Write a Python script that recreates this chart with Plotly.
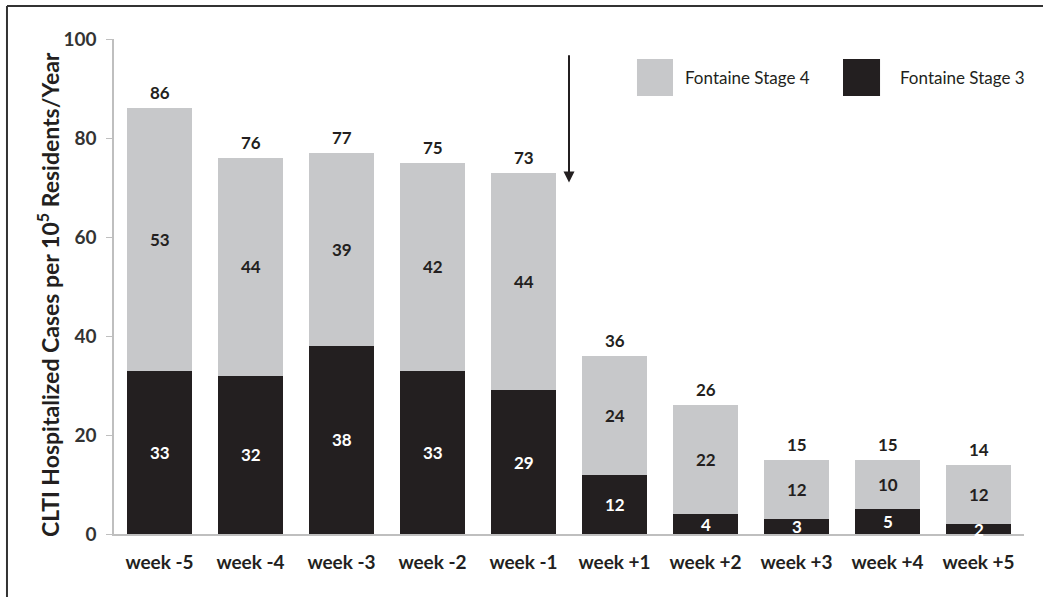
import plotly.graph_objects as go

weeks = ["week -5", "week -4", "week -3", "week -2", "week -1",
         "week +1", "week +2", "week +3", "week +4", "week +5"]
stage3 = [33, 32, 38, 33, 29, 12, 4, 3, 5, 2]
stage4 = [53, 44, 39, 42, 44, 24, 22, 12, 10, 12]
totals = [86, 76, 77, 75, 73, 36, 26, 15, 15, 14]
y_title = "CLTI Hospitalized Cases per 10<sup>5</sup> Residents/Year"

C4 = "#c7c8ca"
C3 = "#231f20"
TXT = "#231f20"
FONT = "Lato"

fig = go.Figure()
fig.add_trace(go.Bar(x=weeks, y=stage3, name="Fontaine Stage 3",
                     marker=dict(color=C3, line=dict(width=0))))
fig.add_trace(go.Bar(x=weeks, y=stage4, name="Fontaine Stage 4",
                     marker=dict(color=C4, line=dict(width=0))))

ann = []
for w, s3, s4, t in zip(weeks, stage3, stage4, totals):
    ann.append(dict(x=w, y=s3 / 2, text=f"<b>{s3}</b>", showarrow=False,
                    font=dict(family=FONT, size=17, color="white")))
    ann.append(dict(x=w, y=s3 + s4 / 2, text=f"<b>{s4}</b>", showarrow=False,
                    font=dict(family=FONT, size=17, color=TXT)))
    ann.append(dict(x=w, y=t, text=f"<b>{t}</b>", showarrow=False, yanchor="bottom",
                    yshift=3, font=dict(family=FONT, size=17, color=TXT)))

# arrow marking the change between week -1 and week +1
ann.append(dict(x=4.5, y=71, ax=4.5, ay=97, xref="x", yref="y", axref="x", ayref="y",
                showarrow=True, arrowhead=2, arrowsize=1.1, arrowwidth=2,
                arrowcolor=TXT, text=""))

# y-axis title (placed like the reference, slightly below axis centre)
ann.append(dict(x=-0.0714, y=0.483, xref="paper", yref="paper", textangle=-90,
                xanchor="center", yanchor="middle", showarrow=False,
                text=f"<b>{y_title}</b>", font=dict(family=FONT, size=23, color=TXT)))

# custom legend
ann.append(dict(x=0.6253, y=0.9222, xref="paper", yref="paper", xanchor="left",
                yanchor="middle", text="Fontaine Stage 4", showarrow=False,
                font=dict(family=FONT, size=17, color=TXT)))
ann.append(dict(x=0.8615, y=0.9222, xref="paper", yref="paper", xanchor="left",
                yanchor="middle", text="Fontaine Stage 3", showarrow=False,
                font=dict(family=FONT, size=17, color=TXT)))

shapes = [
    dict(type="rect", xref="paper", yref="paper", x0=0.5747, x1=0.6143,
         y0=0.8848, y1=0.9596, fillcolor=C4, line=dict(width=0)),
    dict(type="rect", xref="paper", yref="paper", x0=0.8011, x1=0.8418,
         y0=0.8848, y1=0.9596, fillcolor=C3, line=dict(width=0)),
    # partial frame (top and left)
    dict(type="line", xref="paper", yref="paper", x0=-0.1176, x1=1.06,
         y0=1.0667, y1=1.0667, line=dict(color="#333333", width=2)),
    dict(type="line", xref="paper", yref="paper", x0=-0.1176, x1=-0.1176,
         y0=1.0667, y1=-0.14, line=dict(color="#333333", width=2)),
]

fig.update_layout(
    width=1043, height=597,
    barmode="stack", bargap=0.275,
    showlegend=False,
    plot_bgcolor="white", paper_bgcolor="white",
    margin=dict(l=114, r=19, t=39, b=63, autoexpand=False),
    font=dict(family=FONT, color=TXT),
    annotations=ann, shapes=shapes,
    xaxis=dict(showline=True, linecolor="#bfbfbf", linewidth=1.5,
               ticks="", ticklabelstandoff=10,
               tickfont=dict(family=FONT, size=19, color=TXT),
               tickprefix="<b>", ticksuffix="</b>", fixedrange=True),
    yaxis=dict(range=[0, 100], dtick=20, showgrid=False, zeroline=False,
               showline=True, linecolor="#bfbfbf", linewidth=1.5,
               ticks="outside", ticklen=6, tickcolor="#bfbfbf",
               ticklabelstandoff=6,
               tickfont=dict(family=FONT, size=19, color="#333333"),
               tickprefix="<b>", ticksuffix="</b>", fixedrange=True),
)

fig.write_html("out.html", config={"displayModeBar": False},
               post_script="document.body.style.margin='0';document.body.style.overflow='hidden';")
